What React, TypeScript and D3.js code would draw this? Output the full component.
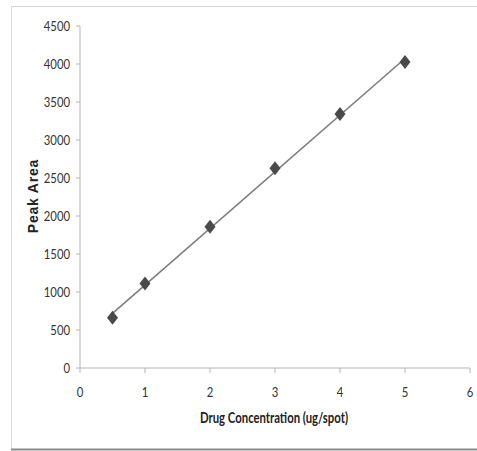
import React from "react";
import * as d3 from "d3";

const concentrations = [0.5, 1, 2, 3, 4, 5];
const peakAreas = [662, 1112, 1858, 2627, 3342, 4026];
const xTicks = [0, 1, 2, 3, 4, 5, 6];
const yTicks = [0, 500, 1000, 1500, 2000, 2500, 3000, 3500, 4000, 4500];
const xTitle = "Drug Concentration (ug/spot)";
const yTitle = "Peak Area";

const W = 477;
const H = 451;
const tickFont = "Lato, 'Open Sans', sans-serif";

export default function App() {
  const x = d3.scaleLinear().domain([0, 6]).range([80, 470]);
  const y = d3.scaleLinear().domain([0, 4500]).range([368, 26]);

  const n = concentrations.length;
  const mx = d3.mean(concentrations)!;
  const my = d3.mean(peakAreas)!;
  let sxy = 0, sxx = 0;
  for (let i = 0; i < n; i++) {
    sxy += (concentrations[i] - mx) * (peakAreas[i] - my);
    sxx += (concentrations[i] - mx) ** 2;
  }
  const slope = sxy / sxx;
  const icpt = my - slope * mx;
  const x0 = d3.min(concentrations)!;
  const x1 = d3.max(concentrations)!;
  const line = d3.line<number>().x((d) => x(d)).y((d) => y(slope * d + icpt));

  const diamond = (cx: number, cy: number) =>
    `M${cx},${cy - 7}L${cx + 5.5},${cy}L${cx},${cy + 7}L${cx - 5.5},${cy}Z`;

  return (
    <svg width={W} height={H} style={{ position: "absolute", left: 0, top: 0, background: "#fff" }}>
      {/* frame */}
      <line x1={11} x2={W} y1={6.5} y2={6.5} stroke="#d8d8d8" strokeWidth={1} />
      <line x1={11.5} x2={11.5} y1={6} y2={449} stroke="#d8d8d8" strokeWidth={1} />
      <line x1={11} x2={W} y1={449.5} y2={449.5} stroke="#8a8a8a" strokeWidth={2} />

      {/* y axis */}
      <line x1={x(0)} x2={x(0)} y1={y(0)} y2={y(4500)} stroke="#b5b5b5" strokeWidth={1} />
      {yTicks.map((t) => (
        <g key={"y" + t}>
          <line x1={x(0) - 4} x2={x(0)} y1={y(t)} y2={y(t)} stroke="#b5b5b5" />
          <text
            transform={`translate(70,${y(t)}) scale(0.87,1)`}
            dy="0.36em"
            textAnchor="end"
            fontFamily={tickFont}
            fontSize={13}
            fill="#333"
          >
            {t}
          </text>
        </g>
      ))}

      {/* x axis */}
      <line x1={x(0)} x2={x(6)} y1={y(0)} y2={y(0)} stroke="#b5b5b5" strokeWidth={1} />
      {xTicks.map((t) => (
        <g key={"x" + t}>
          <line x1={x(t)} x2={x(t)} y1={y(0)} y2={y(0) + 5} stroke="#b5b5b5" />
          <text
            transform={`translate(${x(t)},392) scale(0.87,1)`}
            dy="0.36em"
            textAnchor="middle"
            fontFamily={tickFont}
            fontSize={13}
            fill="#333"
          >
            {t}
          </text>
        </g>
      ))}

      {/* trendline */}
      <path d={line([x0, x1]) || ""} fill="none" stroke="#7a7a7a" strokeWidth={1.5} />

      {/* points */}
      {concentrations.map((c, i) => (
        <path key={"p" + i} d={diamond(x(c), y(peakAreas[i]))} fill="#4a4a4a" />
      ))}

      {/* titles */}
      <text
        x={200}
        y={418}
        dy="0.36em"
        textLength={148}
        lengthAdjust="spacingAndGlyphs"
        fontFamily={tickFont}
        fontWeight="bold"
        fontSize={14.5}
        fill="#222"
      >
        {xTitle}
      </text>
      <text
        transform={`translate(38,196) rotate(-90)`}
        textAnchor="middle"
        fontFamily="'Liberation Sans', Arial, sans-serif"
        fontWeight="bold"
        fontSize={14}
        letterSpacing={0.8}
        fill="#222"
      >
        {yTitle}
      </text>
    </svg>
  );
}
